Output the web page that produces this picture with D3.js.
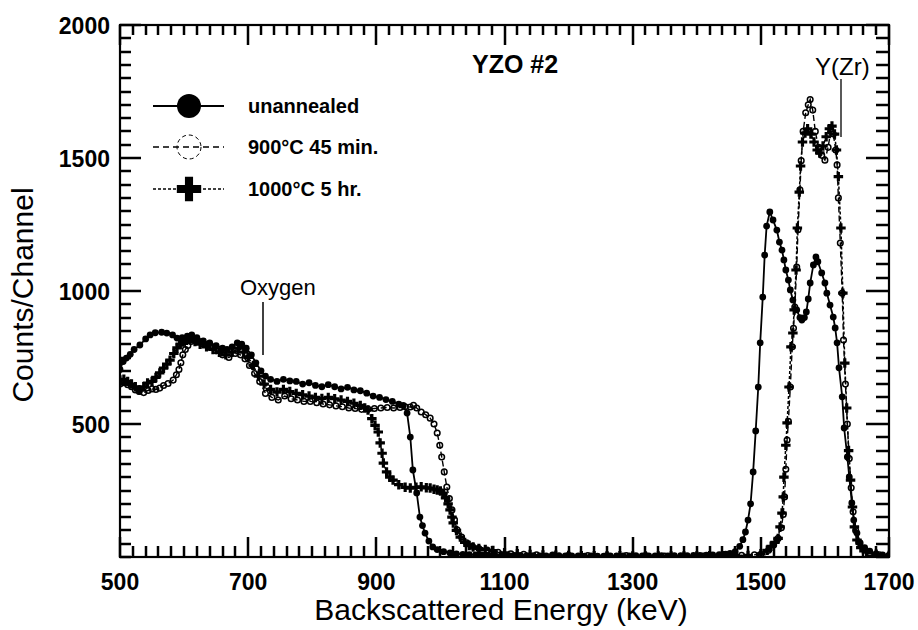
<!DOCTYPE html>
<html>
<head>
<meta charset="utf-8">
<script src="https://cdn.jsdelivr.net/npm/d3@7"></script>
<style>
  html, body { margin: 0; padding: 0; background: #fff; }
  svg text { font-family: "Liberation Sans", Arial, Helvetica, sans-serif; fill: #000; }
</style>
</head>
<body>
<svg id="chart" width="918" height="630" viewBox="0 0 918 630"></svg>
<script>
// RBS spectra of sample YZO #2: counts per channel vs backscattered energy.
const xMajorTicks = [500, 700, 900, 1100, 1300, 1500, 1700];
const yMajorTicks = [500, 1000, 1500, 2000];
const seriesLabels = ["unannealed", "900°C 45 min.", "1000°C 5 hr."];

// [energy keV, counts]
const unannealed = [[500,705],[505,735],[510,748],[516,762],[522,780],[531,797],[540,820],[547,835],[555,843],[565,845],[573,842],[582,835],[589,823],[597,825],[605,830],[612,835],[620,825],[630,812],[640,805],[650,795],[660,785],[667,780],[675,790],[683,805],[690,800],[697,785],[705,760],[712,730],[720,700],[727,680],[735,668],[745,660],[755,668],[765,662],[775,660],[785,650],[795,655],[805,645],[815,640],[825,648],[835,640],[845,632],[855,638],[865,628],[875,625],[885,616],[895,605],[905,600],[915,592],[925,585],[935,575],[942,570],[948,541],[953,451],[957,327],[963,241],[968,150],[972,118],[976,90],[982,60],[988,38],[995,28],[1005,20],[1015,15],[1025,12],[1035,10],[1045,9],[1055,8],[1065,8],[1075,7],[1085,7],[1095,6],[1105,6],[1115,5],[1125,5],[1135,5],[1145,5],[1155,4],[1165,4],[1175,4],[1185,5],[1195,4],[1205,4],[1215,4],[1225,3],[1235,4],[1245,3],[1255,3],[1265,4],[1275,4],[1285,4],[1295,4],[1305,5],[1315,4],[1325,4],[1335,4],[1345,5],[1355,4],[1365,5],[1375,5],[1385,5],[1395,6],[1405,6],[1415,7],[1425,8],[1435,9],[1445,11],[1452,14],[1460,20],[1467,40],[1472,65],[1476,94],[1480,139],[1484,200],[1488,320],[1492,474],[1496,639],[1499,805],[1503,977],[1506,1135],[1509,1244],[1514,1297],[1519,1267],[1525,1229],[1529,1184],[1533,1154],[1536,1117],[1539,1079],[1543,1041],[1546,1004],[1550,966],[1556,929],[1561,900],[1564,891],[1568,900],[1571,921],[1574,970],[1577,1030],[1582,1098],[1586,1128],[1589,1110],[1595,1068],[1600,1030],[1603,992],[1608,947],[1613,902],[1616,861],[1619,805],[1622,711],[1627,602],[1630,485],[1635,376],[1638,301],[1642,203],[1645,139],[1650,90],[1655,53],[1662,35],[1670,22],[1680,12],[1690,8],[1700,6]];

const annealed900 = [[500,650],[506,655],[512,648],[518,640],[524,628],[530,622],[537,618],[544,626],[550,632],[556,630],[562,635],[568,645],[575,652],[583,665],[588,685],[592,705],[595,730],[598,760],[602,780],[606,795],[611,810],[616,818],[622,812],[630,800],[640,790],[650,775],[660,760],[670,750],[680,765],[688,760],[695,745],[702,720],[710,690],[718,660],[727,615],[737,600],[747,590],[757,605],[767,595],[777,590],[787,585],[797,585],[807,580],[817,575],[827,572],[837,568],[847,565],[857,560],[867,558],[877,555],[887,556],[897,558],[907,560],[917,562],[927,560],[937,562],[945,565],[953,564],[958,570],[963,560],[970,545],[977,535],[984,522],[990,500],[995,466],[999,420],[1002,376],[1006,320],[1010,263],[1014,220],[1018,177],[1022,140],[1026,102],[1033,75],[1041,53],[1050,40],[1060,32],[1073,26],[1090,18],[1110,12],[1130,10],[1150,8],[1175,7],[1200,6],[1230,5],[1260,5],[1290,5],[1320,5],[1350,4],[1380,4],[1410,4],[1440,5],[1470,6],[1490,8],[1500,10],[1512,25],[1520,45],[1527,70],[1532,110],[1535,160],[1537,226],[1539,330],[1541,440],[1543,510],[1546,639],[1549,790],[1551,860],[1553,940],[1556,1090],[1558,1230],[1561,1380],[1563,1490],[1566,1600],[1570,1670],[1574,1700],[1577,1720],[1581,1680],[1585,1600],[1590,1540],[1595,1510],[1600,1492],[1605,1540],[1609,1600],[1613,1590],[1617,1530],[1619,1474],[1621,1350],[1624,1180],[1627,992],[1629,816],[1632,650],[1635,500],[1638,370],[1641,260],[1644,170],[1648,100],[1653,55],[1660,30],[1670,15],[1685,8],[1700,5]];

const annealed1000 = [[500,665],[506,668],[512,660],[518,650],[524,640],[530,628],[537,640],[543,654],[550,660],[556,675],[562,692],[568,710],[573,725],[578,740],[584,765],[589,786],[594,800],[598,808],[604,815],[610,820],[617,810],[625,800],[635,790],[645,780],[655,770],[665,760],[675,770],[685,785],[693,770],[700,750],[708,720],[716,680],[725,650],[735,630],[745,620],[755,630],[765,622],[775,615],[785,610],[795,605],[805,600],[815,596],[825,600],[835,595],[845,590],[855,585],[865,578],[875,570],[882,560],[887,553],[893,520],[898,495],[903,470],[906,429],[909,390],[911,353],[916,320],[921,300],[926,289],[935,272],[945,262],[953,259],[962,262],[970,264],[978,260],[984,259],[990,255],[995,252],[1000,248],[1004,240],[1008,222],[1012,200],[1015,177],[1018,150],[1020,128],[1025,100],[1031,75],[1038,55],[1045,43],[1051,38],[1060,32],[1070,28],[1082,24],[1100,16],[1120,12],[1140,9],[1160,8],[1180,7],[1200,6],[1220,5],[1240,5],[1260,5],[1280,5],[1300,4],[1320,4],[1340,4],[1360,4],[1380,4],[1400,4],[1420,5],[1440,5],[1460,5],[1480,6],[1500,12],[1510,25],[1516,40],[1522,55],[1527,70],[1530,113],[1533,165],[1535,226],[1536,300],[1539,420],[1541,504],[1544,639],[1547,790],[1550,842],[1552,929],[1555,1079],[1557,1237],[1560,1372],[1562,1470],[1565,1560],[1569,1594],[1573,1610],[1578,1590],[1583,1560],[1588,1530],[1592,1519],[1597,1545],[1602,1580],[1607,1610],[1611,1620],[1615,1590],[1618,1530],[1621,1430],[1625,1237],[1628,992],[1631,729],[1634,560],[1637,400],[1640,289],[1643,188],[1646,113],[1650,64],[1656,35],[1665,18],[1680,10],[1700,6]];

const svg = d3.select("#chart");
const plotLeft = 120, plotRight = 889, plotTop = 25, plotBottom = 557;

const xScale = d3.scaleLinear().domain([500, 1700]).range([plotLeft, plotRight]);
const yScale = d3.scaleLinear().domain([0, 2000]).range([plotBottom, plotTop]);

const xMinor = d3.range(500, 1701, 20);
const yMinor = d3.range(0, 2001, 50);

// clip for the data traces
svg.append("defs").append("clipPath").attr("id", "plotClip")
  .append("rect").attr("x", plotLeft).attr("y", plotTop - 2)
  .attr("width", plotRight - plotLeft).attr("height", plotBottom - plotTop + 2);

// frame
svg.append("rect").attr("x", plotLeft).attr("y", plotTop)
  .attr("width", plotRight - plotLeft).attr("height", plotBottom - plotTop)
  .attr("fill", "none").attr("stroke", "#000").attr("stroke-width", 2.2);

// tick labels
svg.append("g").selectAll("text").data(xMajorTicks).join("text")
  .attr("x", d => xScale(d)).attr("y", 590).attr("text-anchor", "middle")
  .attr("font-size", 23).attr("font-weight", "bold").text(d => d);
svg.append("g").selectAll("text").data(yMajorTicks).join("text")
  .attr("x", plotLeft - 10).attr("y", d => yScale(d) + 9).attr("text-anchor", "end")
  .attr("font-size", 23).attr("font-weight", "bold").text(d => d);

// data traces
const line = d3.line().x(d => xScale(d[0])).y(d => yScale(d[1]));
const plot = svg.append("g").attr("clip-path", "url(#plotClip)");

// 900 °C, 45 min: long dashes, open circles
plot.append("path").datum(annealed900)
  .attr("d", line).attr("fill", "none").attr("stroke", "#000")
  .attr("stroke-width", 1.4).attr("stroke-dasharray", "6,3");
plot.append("g").selectAll("circle").data(annealed900).join("circle")
  .attr("cx", d => xScale(d[0])).attr("cy", d => yScale(d[1])).attr("r", 2.8)
  .attr("fill", "none").attr("stroke", "#000").attr("stroke-width", 1.5);

// 1000 °C, 5 hr: short dashes, plus markers
plot.append("path").datum(annealed1000)
  .attr("d", line).attr("fill", "none").attr("stroke", "#000")
  .attr("stroke-width", 1.5).attr("stroke-dasharray", "3,2");
const crossSmall = d3.symbol().type(d3.symbolCross).size(50)();
plot.append("g").selectAll("path").data(annealed1000).join("path")
  .attr("d", crossSmall)
  .attr("transform", d => `translate(${xScale(d[0])},${yScale(d[1])})`)
  .attr("fill", "#000");

// unannealed: solid line, filled circles
plot.append("path").datum(unannealed)
  .attr("d", line).attr("fill", "none").attr("stroke", "#000").attr("stroke-width", 1.8);
plot.append("g").selectAll("circle").data(unannealed).join("circle")
  .attr("cx", d => xScale(d[0])).attr("cy", d => yScale(d[1])).attr("r", 3.4)
  .attr("fill", "#000");

// legend
const legendRows = [106, 147, 189];
const lg = svg.append("g");
lg.append("line").attr("x1", 153).attr("x2", 224).attr("y1", legendRows[0]).attr("y2", legendRows[0])
  .attr("stroke", "#000").attr("stroke-width", 2);
lg.append("circle").attr("cx", 189).attr("cy", legendRows[0]).attr("r", 12).attr("fill", "#000");
lg.append("line").attr("x1", 153).attr("x2", 224).attr("y1", legendRows[1]).attr("y2", legendRows[1])
  .attr("stroke", "#000").attr("stroke-width", 1.4).attr("stroke-dasharray", "6,4");
lg.append("circle").attr("cx", 189).attr("cy", legendRows[1]).attr("r", 12)
  .attr("fill", "none").attr("stroke", "#000").attr("stroke-width", 1).attr("stroke-dasharray", "4,3");
lg.append("line").attr("x1", 153).attr("x2", 224).attr("y1", legendRows[2]).attr("y2", legendRows[2])
  .attr("stroke", "#000").attr("stroke-width", 1.4).attr("stroke-dasharray", "3,2");
lg.append("path").attr("d", d3.symbol().type(d3.symbolCross).size(330)())
  .attr("transform", `translate(189,${legendRows[2]})`).attr("fill", "#000");

lg.selectAll("text.leg").data(seriesLabels).join("text").attr("class", "leg")
  .attr("x", 248).attr("y", (d, i) => legendRows[i] + 7)
  .attr("font-size", 20).attr("font-weight", "bold").text(d => d);

// annotations
svg.append("text").attr("x", 472).attr("y", 73).attr("font-size", 25).attr("font-weight", "bold").text("YZO #2");
svg.append("text").attr("x", 815).attr("y", 75).attr("font-size", 24).text("Y(Zr)");
svg.append("line").attr("x1", 841).attr("x2", 841).attr("y1", 79).attr("y2", 137)
  .attr("stroke", "#000").attr("stroke-width", 1.3);
svg.append("text").attr("x", 240).attr("y", 295).attr("font-size", 22).text("Oxygen");
svg.append("line").attr("x1", 263).attr("x2", 263).attr("y1", 302).attr("y2", 355)
  .attr("stroke", "#000").attr("stroke-width", 1.5);

// axis titles
svg.append("text").attr("x", 501).attr("y", 620).attr("text-anchor", "middle")
  .attr("font-size", 30).text("Backscattered Energy (keV)");
svg.append("text").attr("transform", "translate(33,295) rotate(-90)")
  .attr("text-anchor", "middle").attr("font-size", 30).text("Counts/Channel");

// inward tick marks on all four sides, one path drawn on top of everything
const isXMajor = v => xMajorTicks.includes(v);
const isYMajor = v => v > 0 && v % 500 === 0;
const tickSegs = [];
xMinor.forEach(v => {
  const px = Math.round(xScale(v));
  tickSegs.push(`M${px},${plotBottom}L${px},${plotBottom - (isXMajor(v) ? 20 : 11)}`);
  tickSegs.push(`M${px},${plotTop}L${px},${plotTop + (isXMajor(v) ? 20 : 10)}`);
});
yMinor.forEach(v => {
  const py = Math.round(yScale(v));
  tickSegs.push(`M${plotLeft},${py}L${plotLeft + (isYMajor(v) ? 21 : 11)},${py}`);
  tickSegs.push(`M${plotRight},${py}L${plotRight - (isYMajor(v) ? 23 : 13)},${py}`);
});
svg.append("path").attr("d", tickSegs.join(""))
  .attr("fill", "none").attr("stroke", "#000").attr("stroke-width", 2.5);
</script>
</body>
</html>
